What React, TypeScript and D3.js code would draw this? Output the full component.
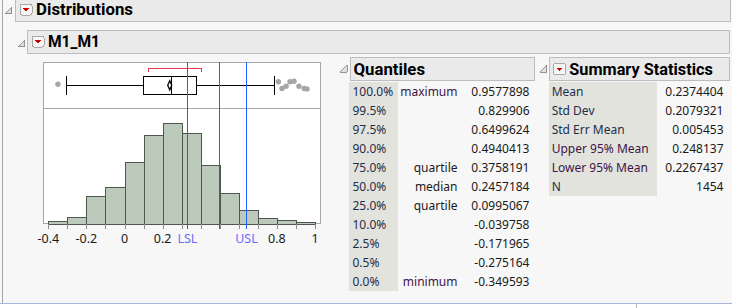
import React from 'react';
import * as d3 from 'd3';

// ---------- data ----------
const binEdges = [-0.4, -0.3, -0.2, -0.1, 0, 0.1, 0.2, 0.3, 0.4, 0.5, 0.6, 0.7, 0.8, 0.9, 1.0];
const binCounts = [6, 17, 75, 102, 169, 244, 279, 251, 163, 83, 36, 15, 9, 5];

const q1 = 0.0995067;
const median = 0.2457184;
const q3 = 0.3758191;
const whiskerLow = -0.309;
const whiskerHigh = 0.786;
const meanValue = 0.2374404;
const lower95 = 0.2267437;
const upper95 = 0.248137;
const shortestHalf = [0.125, 0.4];
const outliersLow = [-0.349593];
const outliersHigh = [0.808, 0.827, 0.848, 0.869, 0.89, 0.916, 0.943, 0.9577898];
const outlierJitterHigh = [-0.4, 0.35, 0.1, -0.4, -0.45, 0.1, 0.35, 0.4];

const specNames = ['LSL', 'Target', 'USL'];
const specValues = [0.33, 0.495, 0.64];
const specShowLabel = [true, false, true];

const axisTickValues = [-0.4, -0.3, -0.2, -0.1, 0, 0.1, 0.2, 0.3, 0.4, 0.5, 0.6, 0.7, 0.8, 0.9, 1.0];
const axisLabelValues = [-0.4, -0.2, 0, 0.2, 0.8, 1];
const axisLabelTexts = ['-0.4', '-0.2', '0', '0.2', '0.8', '1'];

const quantilePcts = ['100.0%', '99.5%', '97.5%', '90.0%', '75.0%', '50.0%', '25.0%', '10.0%', '2.5%', '0.5%', '0.0%'];
const quantileNames = ['maximum', '', '', '', 'quartile', 'median', 'quartile', '', '', '', 'minimum'];
const quantileValues = ['0.9577898', '0.829906', '0.6499624', '0.4940413', '0.3758191', '0.2457184', '0.0995067', '-0.039758', '-0.171965', '-0.275164', '-0.349593'];

const summaryNames = ['Mean', 'Std Dev', 'Std Err Mean', 'Upper 95% Mean', 'Lower 95% Mean', 'N'];
const summaryValues = ['0.2374404', '0.2079321', '0.005453', '0.248137', '0.2267437', '1454'];

// ---------- layout ----------
const W = 732;
const H = 308;
const FONT = '"Noto Sans", "Segoe UI", sans-serif';
const HFONT = 'Roboto, "Noto Sans", sans-serif';
const frameL = 43.5, frameR = 320.5, frameT = 62.5, boxBottom = 108.5, frameB = 223.5;
const boxCY = 85.3;

const x = d3.scaleLinear().domain([-0.4, 1.0]).range([48.3, 315]);
const y = d3.scaleLinear().domain([0, 318]).range([frameB, boxBottom]);

const BLUE = '#1f5fff';
const LABEL_BLUE = '#6b6bff';

function Disclosure({ x0, y0 }: { x0: number; y0: number }) {
  return (
    <path
      d={`M${x0},${y0 + 7} L${x0 + 7},${y0 + 7} L${x0 + 7},${y0} Z`}
      fill="#e0e0e0"
      stroke="#8a8a8a"
      strokeWidth={0.9}
    />
  );
}

function RedButton({ x0, y0 }: { x0: number; y0: number }) {
  return (
    <g>
      <rect x={x0 + 0.5} y={y0 + 0.5} width={12} height={11} rx={2} fill="#f6f6f6" stroke="#a8a8a8" />
      <path d={`M${x0 + 3},${y0 + 4.5} L${x0 + 10},${y0 + 4.5} L${x0 + 6.5},${y0 + 8.5} Z`} fill="#d00000" />
    </g>
  );
}

function Header({ x0, y0, w, h, title, titleX, titleW, baseline, tri, btn }: any) {
  return (
    <g>
      <rect x={x0 + 0.5} y={y0 + 0.5} width={w} height={h} fill="#eaeaea" stroke="#bdbdbd" />
      {tri && <Disclosure x0={tri[0]} y0={tri[1]} />}
      {btn && <RedButton x0={btn[0]} y0={btn[1]} />}
      <text
        x={titleX}
        y={baseline}
        fontFamily={HFONT}
        fontWeight="bold"
        fontSize={16.5}
        fill="#000"
        textLength={titleW}
        lengthAdjust="spacingAndGlyphs"
      >
        {title}
      </text>
    </g>
  );
}

export default function App() {
  const bins = binCounts.map((c, i) => ({ x0: binEdges[i], x1: binEdges[i + 1], count: c }));
  const rowBase = (i: number) => 95.7 + 19 * i;
  const px = (v: number) => Math.round(x(v)) + 0.5;

  return (
    <svg
      width={W}
      height={H}
      style={{ position: 'fixed', left: 0, top: 0, display: 'block' }}
      shapeRendering="crispEdges"
    >
      <rect x={0} y={0} width={W} height={H} fill="#f7f7f7" />
      {/* outer left border and bottom separator */}
      <line x1={2.5} y1={0} x2={2.5} y2={303} stroke="#a6a6a6" />
      <rect x={0} y={304} width={W} height={4} fill="#ffffff" />
      <line x1={0} y1={303.5} x2={W} y2={303.5} stroke="#aab4dc" />
      <line x1={636.5} y1={304} x2={636.5} y2={308} stroke="#b8b8b8" />

      {/* top headers */}
      <Header x0={15} y0={-1} w={715} h={22} title="Distributions" titleX={36} titleW={97} baseline={15.3} tri={[4.5, 6.5]} btn={[19.5, 3.5]} />
      <Header x0={27} y0={30} w={702} h={23} title="M1_M1" titleX={48} titleW={52} baseline={46.7} tri={[17.5, 39.5]} btn={[31.5, 35.5]} />

      {/* plot frame */}
      <rect x={frameL} y={frameT} width={frameR - frameL} height={frameB - frameT} fill="#ffffff" stroke="#a6a6a6" />
      <line x1={frameL} y1={boxBottom} x2={frameR} y2={boxBottom} stroke="#a6a6a6" />

      {/* histogram */}
      <g>
        {bins.map((b, i) => (
          <rect
            key={i}
            x={px(b.x0)}
            y={Math.round(y(b.count)) + 0.5}
            width={Math.round(x(b.x1)) - Math.round(x(b.x0))}
            height={Math.round(y(0)) - Math.round(y(b.count))}
            fill="#bbcabb"
            stroke="#4f564f"
            strokeWidth={1}
          />
        ))}
      </g>

      {/* axis ticks */}
      <g>
        {axisTickValues.map((v, i) => (
          <line key={i} x1={px(v)} x2={px(v)} y1={frameB} y2={frameB + 5.5} stroke="#8c8c8c" />
        ))}
        {axisLabelValues.map((v, i) => (
          <text key={i} x={x(v)} y={243} textAnchor="middle" fontFamily={FONT} fontSize={12.5} fill="#1a1a1a">
            {axisLabelTexts[i]}
          </text>
        ))}
      </g>

      {/* box plot */}
      <g stroke="#000" fill="none" strokeWidth={1}>
        <line x1={x(whiskerLow)} x2={x(q1)} y1={boxCY} y2={boxCY} />
        <line x1={x(q3)} x2={x(whiskerHigh)} y1={boxCY} y2={boxCY} />
        <line x1={px(whiskerLow)} x2={px(whiskerLow)} y1={75.5} y2={95} />
        <line x1={px(whiskerHigh)} x2={px(whiskerHigh)} y1={75.5} y2={95} />
        <rect x={px(q1)} y={76.5} width={Math.round(x(q3)) - Math.round(x(q1))} height={18} />
        <line x1={px(median)} x2={px(median)} y1={76.5} y2={94.5} />
        <path
          shapeRendering="geometricPrecision"
          strokeWidth={1.3}
          d={`M${x(lower95)},${boxCY} L${x(meanValue)},${boxCY - 4.5} L${x(upper95)},${boxCY} L${x(meanValue)},${boxCY + 4.5} Z`}
        />
      </g>
      {/* shortest half bracket */}
      <path
        d={`M${px(shortestHalf[0])},71.5 V68.5 H${px(shortestHalf[1])} V71.5`}
        fill="none"
        stroke="#e8374a"
      />
      {/* outliers */}
      <g fill="#a6a6a6" shapeRendering="geometricPrecision">
        {outliersLow.map((v, i) => (
          <circle key={'l' + i} cx={x(v)} cy={boxCY - 1} r={2.7} />
        ))}
        {outliersHigh.map((v, i) => (
          <circle key={'h' + i} cx={x(v)} cy={boxCY + outlierJitterHigh[i] * 9} r={2.7} />
        ))}
      </g>

      {/* spec limit lines */}
      <g>
        {specValues.map((v, i) => (
          <g key={i}>
            <rect x={Math.round(x(v))} y={frameT - 0.5} width={1} height={frameB + 6 - frameT} fill={BLUE} />
            {specShowLabel[i] && (
              <text x={x(v)} y={243} textAnchor="middle" fontFamily={FONT} fontSize={12.5} fill={LABEL_BLUE}>
                {specNames[i]}
              </text>
            )}
          </g>
        ))}
      </g>

      {/* Quantiles */}
      <Disclosure x0={340} y0={65} />
      <Header x0={350} y0={57} w={184} h={23} title="Quantiles" titleX={353.5} titleW={71.5} baseline={74.5} />
      <rect x={349} y={81.5} width={49} height={209} fill="#e3e3de" />
      <g fontFamily={FONT} fontSize={12} fill="#1a1a1a">
        {quantilePcts.map((p, i) => (
          <text key={'p' + i} x={352.5} y={rowBase(i)} fill="#1c2f4a">{p}</text>
        ))}
        {quantileNames.map((n, i) =>
          n ? (
            <text key={'n' + i} x={457.5} y={rowBase(i)} textAnchor="end" fill={n === 'maximum' || n === 'minimum' ? '#3d1548' : '#1a1a1a'}>
              {n}
            </text>
          ) : null
        )}
        {quantileValues.map((v, i) => (
          <text key={'v' + i} x={529.5} y={rowBase(i)} textAnchor="end">{v}</text>
        ))}
      </g>

      {/* Summary Statistics */}
      <Disclosure x0={539.5} y0={65} />
      <Header x0={549} y0={57} w={180} h={23} title="Summary Statistics" titleX={569.3} titleW={143.5} baseline={74.5} btn={[553, 63]} />
      <rect x={548.5} y={81.5} width={108} height={114} fill="#e3e3de" />
      <g fontFamily={FONT} fontSize={12} fill="#1a1a1a">
        {summaryNames.map((n, i) => (
          <text key={'s' + i} x={551.7} y={rowBase(i)} fill={i === 3 || i === 4 ? '#3d1548' : '#1c2f4a'}>{n}</text>
        ))}
        {summaryValues.map((v, i) => (
          <text key={'sv' + i} x={723.5} y={rowBase(i)} textAnchor="end">{v}</text>
        ))}
      </g>
    </svg>
  );
}
